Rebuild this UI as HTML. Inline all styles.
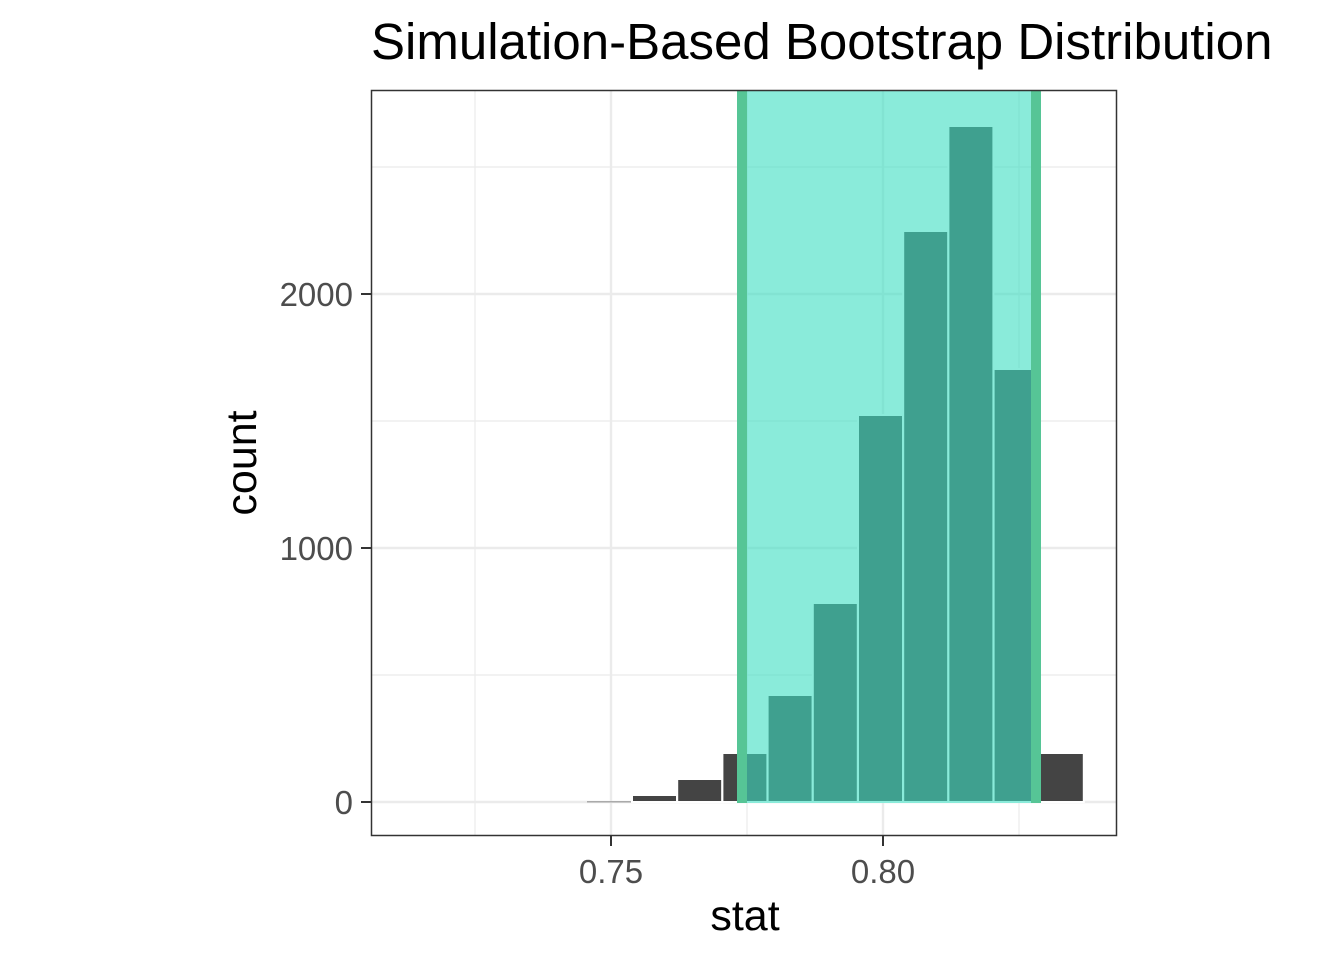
<!DOCTYPE html><html><head><style>body{margin:0;background:#fff}</style></head><body>
<svg width="1344" height="960" xmlns="http://www.w3.org/2000/svg" font-family="Liberation Sans, Arial, sans-serif">
<rect width="1344" height="960" fill="#fff"/>
<g stroke="#EBEBEB">
<g stroke-width="1.2"><line x1="371" x2="1117" y1="167" y2="167"/><line x1="371" x2="1117" y1="421" y2="421"/><line x1="371" x2="1117" y1="675" y2="675"/>
<line x1="475" x2="475" y1="90" y2="836"/><line x1="747" x2="747" y1="90" y2="836"/><line x1="1019" x2="1019" y1="90" y2="836"/></g>
<g stroke-width="2.4"><line x1="371" x2="1117" y1="294" y2="294"/><line x1="371" x2="1117" y1="548" y2="548"/><line x1="371" x2="1117" y1="802" y2="802"/>
<line x1="611" x2="611" y1="90" y2="836"/><line x1="883" x2="883" y1="90" y2="836"/></g>
</g>
<g fill="#444" stroke="#fff" stroke-width="2">
<rect x="587" y="801" width="45" height="1.5" fill="#aaa" stroke="none"/>
<rect x="632" y="795" width="45" height="7"/>
<rect x="677.2" y="779" width="45" height="23"/>
<rect x="722.4" y="753" width="45" height="49"/>
<rect x="767.6" y="695" width="45" height="107"/>
<rect x="812.8" y="603" width="45" height="199"/>
<rect x="858" y="415" width="45" height="387"/>
<rect x="903.2" y="231" width="45" height="571"/>
<rect x="948.4" y="126" width="45" height="676"/>
<rect x="993.6" y="369" width="45" height="433"/>
<rect x="1038.8" y="753" width="45" height="49"/>
</g>
<rect x="737" y="90" width="304" height="713" fill="rgb(60,221,194)" fill-opacity="0.6"/>
<rect x="737" y="90" width="10" height="713" fill="#56C596"/>
<rect x="1031" y="90" width="10" height="713" fill="#56C596"/>
<rect x="371.5" y="90.5" width="745" height="745" fill="none" stroke="#333" stroke-width="1.5"/>
<g stroke="#333" stroke-width="2"><line x1="361" x2="371" y1="294" y2="294"/><line x1="361" x2="371" y1="548" y2="548"/><line x1="361" x2="371" y1="802" y2="802"/>
<line x1="611" x2="611" y1="836" y2="846"/><line x1="883" x2="883" y1="836" y2="846"/></g>
<g font-size="33" fill="#4D4D4D" text-anchor="end"><text x="353" y="306">2000</text><text x="353" y="560">1000</text><text x="353" y="814">0</text></g>
<g font-size="33" fill="#4D4D4D" text-anchor="middle"><text x="611" y="883">0.75</text><text x="883" y="883">0.80</text></g>
<text x="745" y="930" font-size="43" text-anchor="middle">stat</text>
<text transform="translate(256,463) rotate(-90)" font-size="43" text-anchor="middle">count</text>
<text x="371" y="59" font-size="51">Simulation-Based Bootstrap Distribution</text>
</svg></body></html>
